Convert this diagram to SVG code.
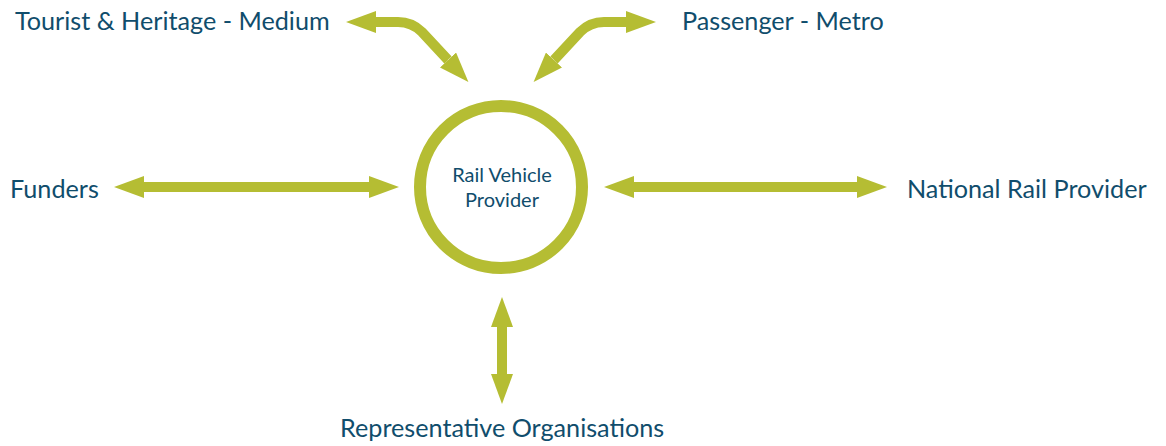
<svg xmlns="http://www.w3.org/2000/svg" width="1166" height="446" viewBox="0 0 1166 446">
<defs>
<style>
.lbl{font-family:Lato,"Open Sans","Liberation Sans",sans-serif;font-size:25.2px;fill:#104d6c}
.ctr{font-family:Lato,"Open Sans","Liberation Sans",sans-serif;font-size:20px;fill:#104d6c}
.sh{fill:none;stroke:#b5bd33;stroke-width:10}
.hd{fill:#b5bd33}
</style>
<marker id="ah" viewBox="0 0 30 22" refX="0" refY="11" markerWidth="30" markerHeight="22" markerUnits="userSpaceOnUse" orient="auto-start-reverse">
<path d="M0 0 L30 11 L0 22 Z" class="hd"/>
</marker>
</defs>
<rect width="1166" height="446" fill="#fff"/>
<g id="connectors">
<path class="sh" d="M144 187 L369 187" marker-start="url(#ah)" marker-end="url(#ah)"/>
<path class="sh" d="M634 187 L857 187" marker-start="url(#ah)" marker-end="url(#ah)"/>
<path class="sh" d="M502 327 L502 374" marker-start="url(#ah)" marker-end="url(#ah)"/>
<path class="sh" d="M376 22 L398 22 Q412 22 422 32 L448 60" marker-start="url(#ah)" marker-end="url(#ah)"/>
<path class="sh" d="M626 22 L604 22 Q590 22 580 32 L554 60" marker-start="url(#ah)" marker-end="url(#ah)"/>
</g>
<g id="node-center">
<circle cx="501" cy="187" r="81" fill="#fff" stroke="#b5bd33" stroke-width="12"/>
<text class="ctr" x="502" y="182" text-anchor="middle">Rail Vehicle</text>
<text class="ctr" x="502" y="207" text-anchor="middle">Provider</text>
</g>
<g id="node-tourist"><text class="lbl" x="15" y="30">Tourist &amp; Heritage - Medium</text></g>
<g id="node-passenger"><text class="lbl" x="682" y="30">Passenger - Metro</text></g>
<g id="node-funders"><text class="lbl" x="10" y="198">Funders</text></g>
<g id="node-national"><text class="lbl" x="907" y="198">National Rail Provider</text></g>
<g id="node-rep"><text class="lbl" x="340" y="437">Representative Organisations</text></g>
</svg>
